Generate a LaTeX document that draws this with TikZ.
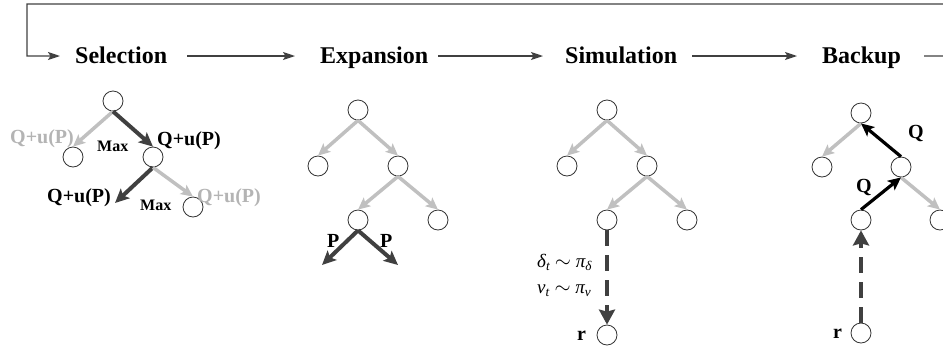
\documentclass[tikz,border=0pt]{standalone}
\usepackage{fontspec}
\setmainfont{Liberation Serif}
\usetikzlibrary{arrows.meta}
\definecolor{dk}{HTML}{404040}
\definecolor{lg}{HTML}{C0C0C0}
\definecolor{lgt}{HTML}{B4B4B4}
\begin{document}
\begin{tikzpicture}[x=1bp,y=-1bp,
 st/.style={circle,draw=black!80,line width=0.8bp,fill=white,minimum size=20bp,inner sep=0pt},
 head/.style={font=\fontsize{24bp}{28bp}\selectfont\bfseries,inner sep=0pt,text height=15bp,text depth=1bp,anchor=base west},
 flow/.style={draw=dk,line width=1.3bp,-{Stealth[length=12bp,width=8bp,inset=2.5bp]}},
 flowline/.style={draw=dk,line width=1.3bp},
 ga/.style={draw=lg,line width=3.5bp,-{Stealth[length=12bp,width=11bp,inset=2.5bp]}},
 da/.style={draw=dk,line width=4bp,-{Stealth[length=14bp,width=13bp,inset=3bp]}},
 ba/.style={draw=black,line width=3.2bp,-{Stealth[length=13bp,width=12bp,inset=3bp]}},
 dsh/.style={draw=dk,line width=4bp,dash pattern=on 16bp off 9bp,-{Stealth[length=15bp,width=16bp,inset=2bp]}},
 lab/.style={font=\fontsize{20bp}{24bp}\selectfont\bfseries,inner sep=0pt,anchor=base west},
 mx/.style={font=\fontsize{16bp}{19bp}\selectfont\bfseries,inner sep=0pt,anchor=base west},
 mth/.style={font=\fontsize{19bp}{22bp}\selectfont\itshape,inner sep=0pt,anchor=base west},
]
\useasboundingbox (0,0) rectangle (943,351);
\clip (0,0) rectangle (943,351);

% headers
\node[head] (sel) at (75,63) {Selection};
\node[head] (exp) at (320,63) {Expansion};
\node[head] (sim) at (565,63) {Simulation};
\node[head] (bak) at (822,63) {Backup};

\coordinate (r1) at (952,56);
\coordinate (r2) at (952,4);
\coordinate (tl) at (27,4);
\draw[flow,shorten <=20bp,shorten >=25bp] (sel.east) -- (exp.west);
\draw[flow,shorten <=10bp,shorten >=22bp] (exp.east) -- (sim.west);
\draw[flow,shorten <=15bp,shorten >=25bp] (sim.east) -- (bak.west);
\draw[flow,shorten <=23bp,shorten >=15bp] (bak.east) -- (r1) -- (r2) -- (tl) -- (tl |- sel.west) -- (sel.west);

% Selection tree
\node[st] (s0) at (113,101) {};
\node[st] (s1) at (73,157) {};
\node[st] (s2) at (153,157) {};
\node[st] (s4) at (193,207) {};
\coordinate (s3) at (115,203);
\draw[ga] (s0.south) -- (s1.north);
\draw[da] (s0.south) -- (s2.north);
\draw[da] (s2.south) -- (s3);
\draw[ga] (s2.south) -- (s4.north);
\node[lab,text=lgt] (q1) at (10,143) {Q+u(P)};
\node[mx] (m1) at (97,151) {Max};
\node[lab] (q2) at (157,145) {Q+u(P)};
\node[lab] (q3) at (47,202) {Q+u(P)};
\node[mx] (m2) at (140,210) {Max};
\node[lab,text=lgt] (q4) at (197,202) {Q+u(P)};

% Expansion tree
\node[st] (e0) at (358,110) {};
\node[st] (e1) at (318,166) {};
\node[st] (e2) at (398,166) {};
\node[st] (e3) at (358,220) {};
\node[st] (e4) at (438,220) {};
\coordinate (p1) at (322,265);
\coordinate (p2) at (398,265);
\draw[ga] (e0.south) -- (e1.north);
\draw[ga] (e0.south) -- (e2.north);
\draw[ga] (e2.south) -- (e3.north);
\draw[ga] (e2.south) -- (e4.north);
\draw[da] (e3.south) -- (p1);
\draw[da] (e3.south) -- (p2);
\node[lab] (pl1) at (327,247) {P};
\node[lab] (pl2) at (380,247) {P};

% Simulation tree
\node[st] (m0) at (607,110) {};
\node[st] (mm1) at (567,166) {};
\node[st] (mm2) at (647,166) {};
\node[st] (mm3) at (607,220) {};
\node[st] (mm4) at (687,220) {};
\node[st] (mm5) at (607,335) {};
\draw[ga] (m0.south) -- (mm1.north);
\draw[ga] (m0.south) -- (mm2.north);
\draw[ga] (mm2.south) -- (mm3.north);
\draw[ga] (mm2.south) -- (mm4.north);
\draw[dsh] (mm3.south) -- (mm5.north);
\node[mth] (d1) at (537,267) {δ\textsubscript{t} $\sim$ π\textsubscript{δ}};
\node[mth] (d2) at (537,293) {v\textsubscript{t} $\sim$ π\textsubscript{v}};
\node[lab] (rr1) at (577,340) {r};

% Backup tree
\node[st] (b0) at (861,113) {};
\node[st] (b1) at (822,167) {};
\node[st] (b2) at (901,167) {};
\node[st] (b3) at (861,220) {};
\node[st] (b4) at (940,220) {};
\node[st] (b5) at (861,333) {};
\draw[ga] (b0.south) -- (b1.north);
\draw[ga] (b2.south) -- (b4.north);
\draw[ba] (b3.north) -- (b2.south);
\draw[ba] (b2.north) -- (b0.south);
\draw[dsh] (b5.north) -- (b3.south);
\node[lab] (qq1) at (908,138) {Q};
\node[lab] (qq2) at (856,192) {Q};
\node[lab] (rr2) at (833,338) {r};
\end{tikzpicture}
\end{document}
